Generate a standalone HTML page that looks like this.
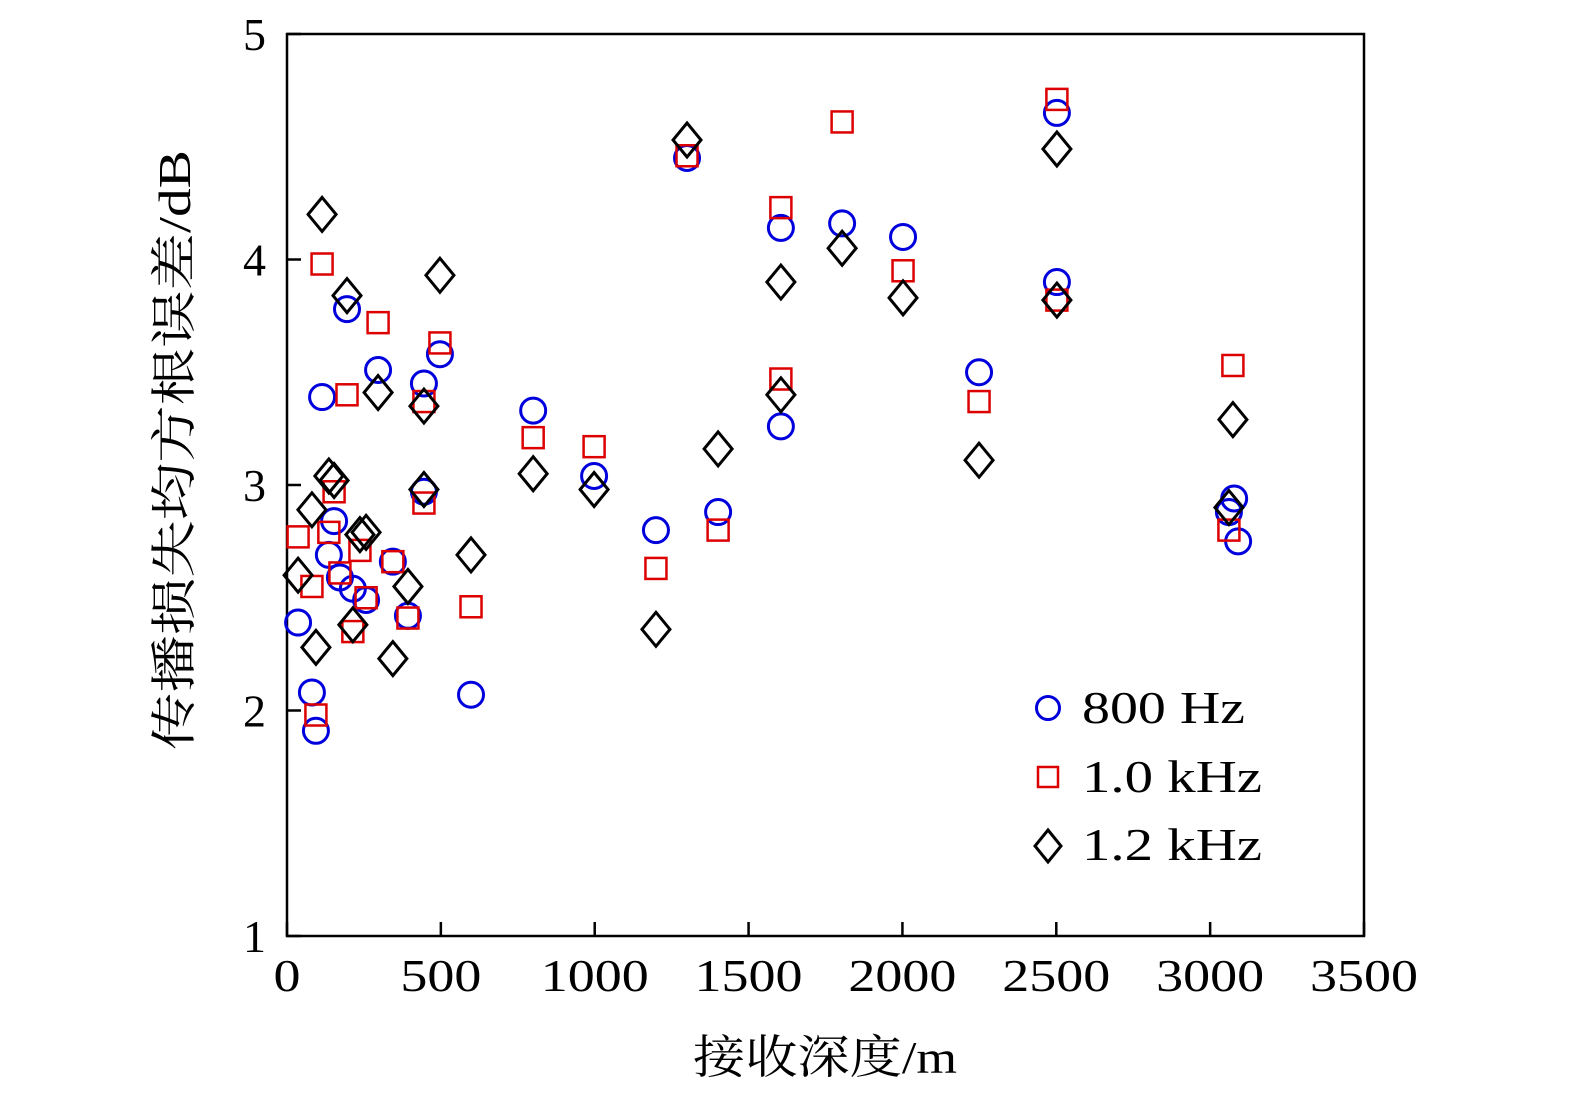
<!DOCTYPE html>
<html><head><meta charset="utf-8"><style>
html,body{margin:0;padding:0;background:#fff;overflow:hidden;width:1575px;height:1102px;}
svg{display:block;}
svg text{font-family:"Liberation Serif","Noto Serif CJK SC",serif;fill:#000;}
</style></head><body>
<svg id="chart" width="1575" height="1102" xmlns="http://www.w3.org/2000/svg">
<rect x="287" y="34" width="1077" height="902" fill="none" stroke="#000" stroke-width="2.5"/>
<g id="ticks"></g>
<g id="marks"></g>
<text x="693" y="1073" font-size="46" textLength="264" lengthAdjust="spacingAndGlyphs">接收深度/m</text>
<text transform="translate(190,750) rotate(-90)" font-size="46" textLength="600" lengthAdjust="spacingAndGlyphs">传播损失均方根误差/dB</text>
<g>
<circle cx="1048" cy="708" r="11.5" fill="none" stroke="#0000dd" stroke-width="3"/>
<text x="1082" y="723" font-size="46" textLength="163" lengthAdjust="spacingAndGlyphs">800 Hz</text>
<rect x="1038" y="767" width="20" height="20" fill="none" stroke="#dd0000" stroke-width="2.5"/>
<text x="1082" y="792" font-size="46" textLength="180" lengthAdjust="spacingAndGlyphs">1.0 kHz</text>
<polygon points="1048,830 1061,846 1048,862 1035,846" fill="none" stroke="#000" stroke-width="3"/>
<text x="1082" y="860" font-size="46" textLength="180" lengthAdjust="spacingAndGlyphs">1.2 kHz</text>
</g>
</svg>
<script>
const xTicks=[0,500,1000,1500,2000,2500,3000,3500];
const yTicks=[1,2,3,4,5];
const s800x=[36,81,94,114,136,153,172,195,214,257,296,344,393,445,445,497,598,800,998,1199,1300,1401,1605,1605,1804,2002,2249,2502,2502,3061,3078,3091];
const s800y=[2.39,2.08,1.91,3.39,2.69,2.84,2.59,3.78,2.54,2.49,3.51,2.66,2.42,3.45,2.97,3.58,2.07,3.33,3.04,2.80,4.45,2.88,4.14,3.26,4.16,4.10,3.50,4.65,3.90,2.88,2.94,2.75];
const s1kx=[36,81,94,114,136,153,172,195,214,237,257,296,344,393,445,445,497,598,800,998,1199,1300,1401,1605,1605,1804,2002,2249,2502,2502,3074,3061];
const s1ky=[2.77,2.55,1.98,3.98,2.79,2.97,2.61,3.40,2.35,2.71,2.50,3.72,2.66,2.41,3.37,2.92,3.63,2.46,3.21,3.17,2.63,4.46,2.80,4.23,3.47,4.61,3.95,3.37,4.71,3.82,3.53,2.80];
const s12x=[36,81,94,114,136,153,195,214,237,257,296,344,393,445,445,497,598,800,998,1199,1300,1401,1605,1605,1804,2002,2249,2502,2502,3074,3061];
const s12y=[2.60,2.89,2.28,4.20,3.04,3.02,3.84,2.38,2.78,2.79,3.41,2.23,2.55,3.35,2.98,3.93,2.69,3.05,2.98,2.36,4.53,3.16,3.90,3.40,4.05,3.83,3.11,4.49,3.82,3.29,2.90];
const NS='http://www.w3.org/2000/svg';
const X=v=>287+v*(1077/3500);
const Y=v=>936-(v-1)*(902/4);
const ticks=document.getElementById('ticks'), marks=document.getElementById('marks');
function mk(tag,at,parent){const e=document.createElementNS(NS,tag);for(const k in at)e.setAttribute(k,at[k]);parent.appendChild(e);return e;}
xTicks.forEach(t=>{
 const l=mk('line',{x1:X(t),x2:X(t),y1:936,y2:922,stroke:'#000','stroke-width':2.5},ticks);
 
 
 const len=String(t).length*27;
 const tx=mk('text',{x:X(t),y:991,'font-size':46,'text-anchor':'middle',textLength:len,lengthAdjust:'spacingAndGlyphs'},ticks);
 tx.textContent=t;
 
 
});
yTicks.forEach(t=>{
 const l=mk('line',{x1:287,x2:301,y1:Y(t),y2:Y(t),stroke:'#000','stroke-width':2.5},ticks);
 
 
 const tx=mk('text',{x:266,y:Y(t)+16,'font-size':46,'text-anchor':'end'},ticks);
 tx.textContent=t;
 
 
});
s800x.forEach((v,i)=>{
 const c=mk('circle',{cx:X(v),cy:Y(s800y[i]),r:12.5,fill:'none',stroke:'#0000dd','stroke-width':3},marks);
 
 
});
s1kx.forEach((v,i)=>{
 const cx=X(v),cy=Y(s1ky[i]);
 const r=mk('rect',{x:cx-10.5,y:cy-10.5,width:21,height:21,fill:'none',stroke:'#dd0000','stroke-width':2.5},marks);
 
 
});
s12x.forEach((v,i)=>{
 const cx=X(v),cy=Y(s12y[i]);
 const p=mk('polygon',{points:`${cx},${cy-17} ${cx+14},${cy} ${cx},${cy+17} ${cx-14},${cy}`,fill:'none',stroke:'#000','stroke-width':3},marks);
 
 
});
</script>
</body></html>
